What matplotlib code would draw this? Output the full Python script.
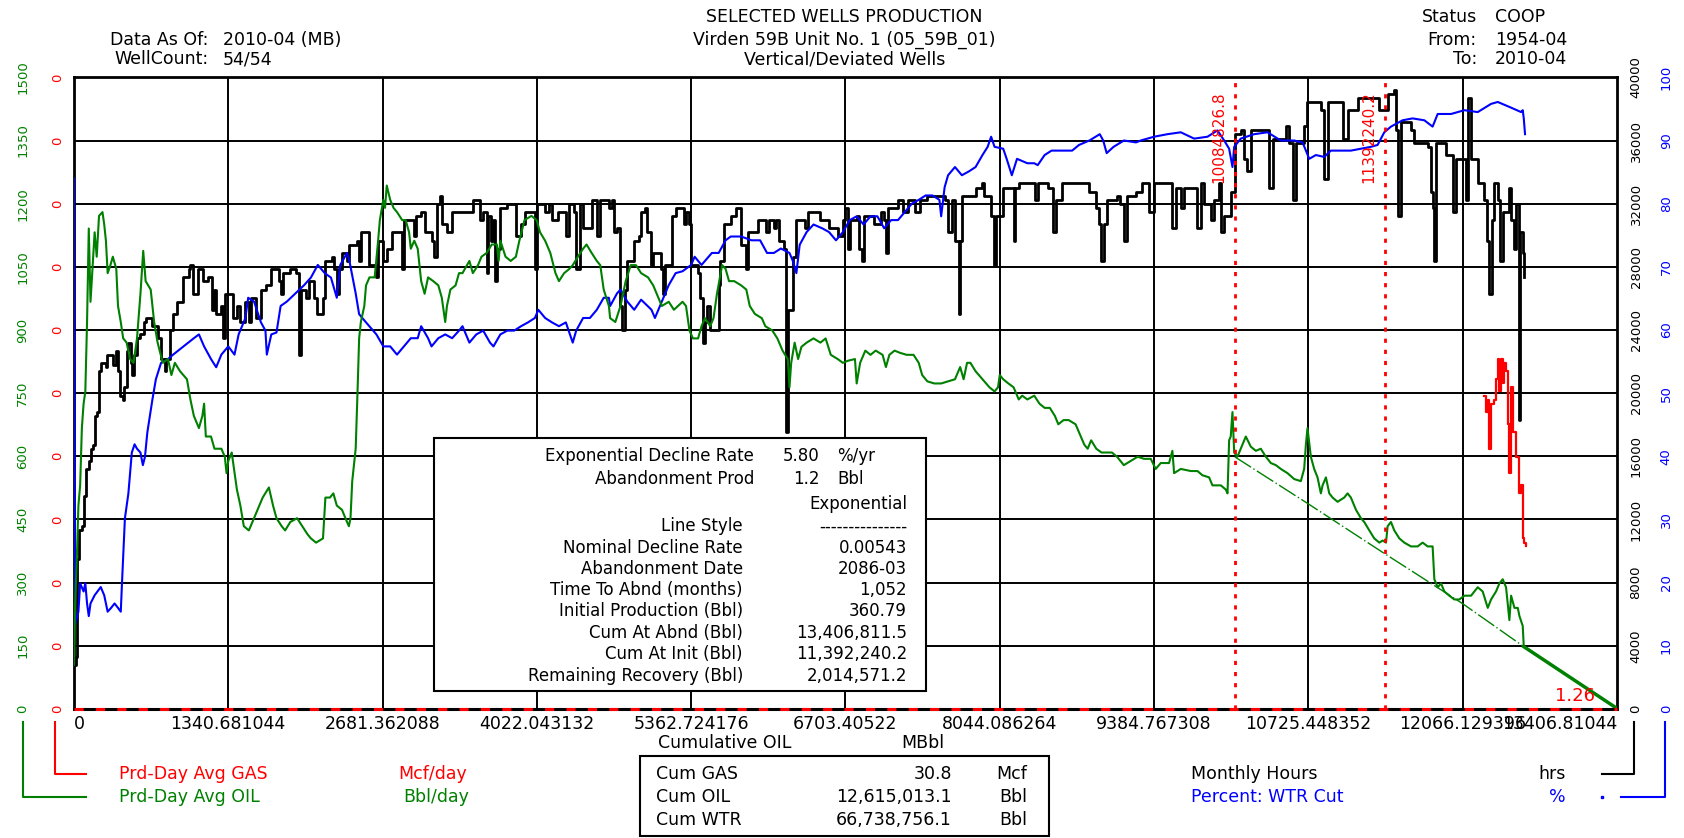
import matplotlib
matplotlib.use("Agg")
import matplotlib.pyplot as plt
from matplotlib.transforms import blended_transform_factory as blend
from matplotlib.patches import Rectangle
from matplotlib.lines import Line2D

plt.rcParams['font.family'] = ['DejaVu Sans', 'Noto Sans']

GREEN = '#008000'
RED = '#ff0000'
BLUE = '#0000ff'

# axis scales
x_tick_labels = ['0', '1340.681044', '2681.362088', '4022.043132', '5362.724176',
                 '6703.40522', '8044.086264', '9384.767308', '10725.448352',
                 '12066.129396', '13406.81044']
oil_ticks = [0, 150, 300, 450, 600, 750, 900, 1050, 1200, 1350, 1500]
hrs_ticks = [0, 4000, 8000, 12000, 16000, 20000, 24000, 28000, 32000, 36000, 40000]
wtr_ticks = [0, 10, 20, 30, 40, 50, 60, 70, 80, 90, 100]

# Prd-Day Avg OIL (Bbl/day) vs cumulative oil (MBbl)
oil_x = [0, 9, 24, 39, 54, 69, 84, 99, 114, 129,
         144, 159, 180, 198, 218, 248, 263, 278, 293, 317,
         338, 368, 383, 407, 428, 458, 488, 518, 548, 578,
         602, 623, 667, 697, 727, 772, 817, 847, 877, 922,
         982, 1012, 1042, 1086, 1116, 1131, 1146, 1191, 1221, 1281,
         1311, 1326, 1341, 1371, 1416, 1446, 1476, 1520, 1580, 1640,
         1694, 1730, 1760, 1805, 1835, 1880, 1939, 1984, 2029, 2059,
         2104, 2164, 2185, 2224, 2254, 2284, 2329, 2359, 2389, 2403,
         2418, 2448, 2463, 2478, 2493, 2523, 2538, 2568, 2613, 2643,
         2658, 2688, 2703, 2718, 2748, 2777, 2807, 2852, 2882, 2912,
         2927, 2957, 2987, 3017, 3047, 3077, 3122, 3166, 3196, 3226,
         3241, 3271, 3316, 3346, 3376, 3436, 3466, 3511, 3541, 3586,
         3630, 3675, 3690, 3705, 3750, 3795, 3840, 3870, 3915, 3975,
         4020, 4050, 4094, 4139, 4184, 4214, 4259, 4304, 4334, 4379,
         4424, 4454, 4498, 4543, 4573, 4603, 4648,
         4659, 4704, 4749, 4794, 4838, 4883, 4928, 4988, 5033, 5078,
         5108, 5168, 5213, 5288, 5318, 5348, 5378, 5423, 5453, 5483,
         5528, 5557, 5587, 5632, 5662, 5692, 5737, 5797, 5842, 5872,
         5917, 5977, 6007, 6067, 6112, 6157, 6202, 6217, 6232, 6262,
         6292, 6321, 6366, 6426, 6486, 6531, 6576, 6636, 6681, 6726,
         6786, 6801, 6831, 6876, 6921, 6966, 7026, 7055, 7085, 7130,
         7175, 7235, 7295, 7340, 7370, 7415, 7475, 7535, 7595, 7655,
         7700, 7730, 7760, 7789, 7834, 7894, 7954, 7999, 8029, 8044,
         8074, 8119, 8164, 8209, 8239, 8284, 8344, 8389, 8434, 8479,
         8523, 8553, 8598, 8643, 8703, 8748, 8778, 8808, 8838, 8883,
         8928, 8973, 9018, 9063, 9122, 9182, 9242,
         9298, 9356, 9399, 9443, 9515, 9544, 9559, 9617, 9704, 9762,
         9805, 9863, 9892, 9965, 10008, 10023, 10037, 10051, 10066, 10081,
         10109, 10153, 10182, 10225, 10269, 10312, 10356, 10399, 10443, 10486,
         10544, 10602, 10660, 10689, 10704, 10718, 10747, 10776, 10805, 10834,
         10849, 10878, 10907, 10936, 10979, 11037, 11066, 11095, 11139, 11182,
         11211, 11255, 11298, 11342, 11371, 11400, 11414, 11443, 11472, 11516,
         11559, 11617, 11675, 11718, 11762, 11805, 11820, 11849, 11878, 11907,
         11950, 11994, 12037, 12081, 12139, 12197, 12240, 12284, 12313, 12356,
         12385, 12414, 12443, 12472, 12487, 12516, 12545, 12559, 12588, 12597]
oil_rate = [105, 240, 347, 483, 531, 667, 725, 754, 919, 1141,
            967, 1035, 1132, 1074, 1171, 1180, 1151, 1112, 1035, 1054,
            1074, 1045, 957, 919, 880, 870, 831, 822, 880, 986,
            1088, 1016, 996, 919, 870, 822, 831, 793, 822, 802,
            783, 735, 696, 667, 696, 725, 647, 647, 618, 618,
            599, 560, 589, 609, 521, 483, 434, 424, 463, 502,
            526, 483, 453, 434, 424, 444, 453, 434, 415, 405,
            395, 405, 502, 502, 512, 483, 473, 453, 434, 453,
            541, 618, 744, 880, 919, 957, 1006, 1025, 1025, 1112,
            1161, 1209, 1190, 1243, 1209, 1190, 1180, 1161, 1161, 1132,
            1093, 1112, 1093, 1016, 986, 1025, 1016, 1006, 977, 919,
            957, 996, 1006, 1035, 1035, 1064, 1035, 1054, 1074, 1083,
            1103, 1103, 1064, 1112, 1074, 1064, 1074, 1112, 1161, 1171,
            1161, 1132, 1112, 1083, 1035, 1016, 1035, 1045, 1054, 1074,
            1093, 1103, 1083, 1064, 1054, 996, 957,
            928, 919, 957, 1016, 1054, 1054, 1035, 1025, 1006, 977,
            957, 967, 948, 967, 957, 899, 880, 880, 909, 928,
            909, 928, 986, 1054, 1045, 1016, 1016, 1006, 996, 957,
            938, 928, 909, 899, 880, 851, 831, 764, 822, 870,
            831, 860, 870, 880, 870, 880, 841, 831, 822, 827,
            831, 773, 822, 851, 841, 851, 841, 812, 841, 851,
            846, 841, 841, 822, 793, 778, 773, 773, 778, 783,
            812, 783, 822, 822, 802, 783, 764, 754, 764, 793,
            783, 773, 764, 735, 744, 735, 744, 725, 715, 715,
            696, 676, 686, 686, 676, 647, 628, 618, 638, 618,
            609, 609, 609, 599, 579, 589, 599,
            594, 594, 570, 584, 584, 613, 560, 570, 565, 565,
            555, 550, 531, 531, 521, 512, 638, 647, 705, 609,
            599, 628, 647, 623, 613, 618, 599, 584, 579, 570,
            560, 546, 541, 570, 628, 667, 599, 570, 550, 512,
            531, 550, 512, 502, 492, 502, 512, 502, 473, 453,
            444, 424, 405, 395, 400, 395, 434, 444, 424, 405,
            395, 386, 386, 395, 386, 386, 308, 289, 298, 279,
            269, 260, 260, 269, 269, 289, 279, 240, 260, 279,
            298, 308, 289, 211, 269, 240, 240, 221, 197, 148]

# Monthly Hours
hrs_x = [0, 18, 30, 48, 69, 90, 108, 129, 144, 168,
         180, 204, 218, 239, 278, 287, 338, 368, 383, 398,
         428, 437, 458, 473, 497, 503, 518, 548, 578, 608,
         629, 682, 727, 757, 787, 802, 832, 862, 898, 952,
         997, 1012, 1036, 1077, 1125, 1161, 1197, 1221, 1236, 1281,
         1296, 1311, 1347, 1386, 1416, 1446, 1485, 1520, 1535, 1580,
         1625, 1670, 1715, 1784, 1796, 1814, 1880, 1933, 1954, 1969,
         2014, 2044, 2089, 2113, 2149, 2164, 2185, 2239, 2263, 2284,
         2299, 2329, 2373, 2394, 2463, 2478, 2493, 2553, 2568, 2628,
         2643, 2688, 2724, 2762, 2822, 2852, 2867, 2927, 2951, 2972,
         3017, 3047, 3107, 3131, 3152, 3181, 3196, 3241, 3286, 3406,
         3466, 3526, 3556, 3586, 3601, 3622, 3639, 3660, 3675, 3699,
         3765, 3819, 3840, 3885, 3915, 3990, 4005, 4020, 4094, 4124,
         4154, 4208, 4274, 4298, 4349, 4364, 4394, 4424, 4498, 4543,
         4573, 4648,
         4674, 4689, 4719, 4743, 4764, 4785, 4808, 4868, 4913, 4928,
         4958, 4982, 5012, 5033, 5102, 5114, 5138, 5183, 5198, 5228,
         5303, 5318, 5342, 5363, 5423, 5438, 5462, 5483, 5504, 5528,
         5564, 5602, 5617, 5647, 5707, 5752, 5782, 5797, 5842, 5857,
         5932, 5947, 6013, 6037, 6082, 6103, 6127, 6172, 6187, 6202,
         6232, 6247, 6277, 6352, 6381, 6486, 6561, 6636, 6681, 6702,
         6726, 6741, 6801, 6822, 6846, 6861, 6951, 7010, 7040, 7055,
         7070, 7160, 7205, 7250, 7310, 7355, 7415, 7565, 7595, 7625,
         7655, 7691, 7703, 7715, 7834, 7888, 7909, 7969, 7990, 8014,
         8074, 8164, 8179, 8209, 8350, 8380, 8464, 8509, 8530, 8583,
         8703, 8823, 8883, 8907, 8928, 8949, 8973, 9063, 9093, 9123,
         9153, 9228,
         9283, 9341, 9385, 9515, 9544, 9573, 9617, 9646, 9733, 9762,
         9791, 9820, 9878, 9907, 9950, 9965, 9994, 10051, 10086, 10138,
         10167, 10196, 10225, 10370, 10385, 10414, 10530, 10559, 10588, 10617,
         10689, 10712, 10834, 10857, 10892, 10979, 11023, 11066, 11153, 11342,
         11414, 11472, 11486, 11501, 11530, 11617, 11646, 11733, 11762, 11791,
         11805, 11820, 11834, 11921, 11979, 12008, 12066, 12095, 12116, 12139,
         12197, 12255, 12278, 12298, 12318, 12342, 12371, 12394, 12414, 12472,
         12487, 12510, 12530, 12559, 12568, 12588, 12603]
monthly_hours = [2790, 3307, 9509, 11318, 11576, 13514, 15194, 15710, 16486, 16744,
                 18553, 18811, 21395, 21912, 21654, 22429, 21783, 22687, 21395, 19845,
                 19586, 20362, 22687, 23204, 21912, 21137, 22429, 23462, 23721, 24496,
                 24754, 24238, 23462, 22170, 21395, 22170, 23979, 25013, 25788, 27338,
                 27855, 28114, 26305, 27855, 27080, 27338, 25271, 26563, 25013, 25530,
                 23462, 26305, 26305, 24754, 25530, 24496, 25788, 24496, 26046, 24754,
                 26563, 26822, 27855, 27080, 26305, 27597, 27855, 27597, 22429, 26563,
                 26046, 27080, 26046, 25013, 25013, 26046, 28372, 28630, 27855, 26305,
                 27855, 28889, 28372, 29406, 29664, 28372, 30181, 30181, 28114, 27338,
                 29664, 28372, 29147, 30181, 30181, 27855, 30956, 30956, 29922, 31214,
                 31473, 30181, 29664, 28630, 31990, 32506, 30698, 30181, 31473, 31473,
                 32248, 30956, 31473, 27597, 31214, 29664, 30956, 27080, 29147, 31731,
                 31990, 31990, 29922, 30698, 31473, 31473, 27855, 31990, 31473, 31990,
                 30956, 31473, 29922, 31990, 31473, 27855, 31990, 30439, 32248, 29922,
                 32248, 31731,
                 32248, 30181, 30439, 25530, 23979, 26563, 28372, 29664, 29922, 31473,
                 31731, 30181, 28114, 28889, 27855, 26305, 28114, 28114, 31214, 31731,
                 30698, 31473, 30698, 28114, 27597, 26046, 23204, 24496, 25530, 23979,
                 23979, 26822, 28372, 30698, 31214, 31731, 31731, 29406, 27855, 30181,
                 30181, 30956, 30181, 30956, 30439, 30956, 29664, 29147, 17519, 25271,
                 25271, 28630, 30956, 30439, 31473, 30956, 30439, 29922, 30956, 31731,
                 29147, 30956, 31214, 29147, 28372, 31214, 30698, 31473, 30956, 28889,
                 31731, 32248, 31473, 32248, 31473, 32248, 32506, 32248, 30181, 32248,
                 29664, 25013, 29664, 32506, 33023, 33282, 32506, 31214, 28114, 31214,
                 33023, 29664, 33023, 33282, 32248, 33282, 33023, 30181, 32248, 33282,
                 33282, 32765, 31731, 30698, 28372, 30698, 32248, 32506, 31990, 29664,
                 32506, 32765,
                 33282, 31473, 33282, 33282, 30439, 33023, 31731, 33023, 33023, 30439,
                 33282, 31990, 30956, 32248, 33282, 30181, 31214, 32765, 36382, 36641,
                 34832, 34057, 36641, 36641, 33023, 36124, 36899, 35866, 32248, 35866,
                 36899, 38450, 37933, 33540, 38450, 38450, 36124, 37933, 38708, 37933,
                 38966, 39225, 36641, 31214, 37158, 36641, 35866, 35866, 35607, 32765,
                 31731, 28372, 35866, 35090, 31473, 34832, 34832, 32248, 38708, 34832,
                 33282, 32248, 29664, 26305, 30956, 33282, 32248, 28372, 31473, 33023,
                 30956, 29147, 31990, 18294, 30181, 28889, 27338]

# Percent: WTR Cut
wtr_x = [0, 9, 39, 54, 84, 99, 114, 129, 144,
         180, 233, 263, 293, 323, 353, 383, 407, 419, 443,
         473, 503, 527, 548, 578, 599, 617, 638, 682, 712,
         757, 817, 862, 952, 1042, 1086, 1131, 1191, 1236, 1281,
         1341, 1395, 1431, 1490, 1514, 1565, 1625, 1664, 1676, 1715,
         1760, 1796, 1850, 1925, 2000, 2059, 2119, 2179, 2233, 2284,
         2314, 2373, 2394, 2448, 2478, 2538, 2628, 2688, 2748, 2807,
         2867, 2927, 2987, 3017, 3077, 3107, 3166, 3226, 3286, 3346,
         3376, 3436, 3496, 3556, 3615, 3645, 3705, 3765, 3825, 3885,
         3945, 4005, 4035, 4094, 4154, 4214, 4274, 4334, 4364, 4424,
         4483, 4543, 4603, 4648,
         4659, 4719, 4749, 4808, 4868, 4928, 5018, 5048, 5108, 5168,
         5228, 5288, 5363, 5393, 5453, 5543, 5602, 5662, 5707, 5797,
         5887, 5962, 6022, 6082, 6142, 6217, 6247, 6277, 6306, 6366,
         6426, 6501, 6561, 6621, 6681, 6741, 6801, 6861, 6921, 6981,
         7040, 7100, 7160, 7220, 7280, 7340, 7400, 7460, 7520, 7535,
         7565, 7595, 7655, 7715, 7775, 7834, 7894, 7939, 7969, 7999,
         8074, 8104, 8149, 8194, 8284, 8344, 8374, 8434, 8494, 8583,
         8673, 8733, 8823, 8913, 8943, 8973, 9033, 9123, 9228,
         9269, 9385, 9501, 9617, 9733, 9849, 9936, 9994, 10037, 10066,
         10081, 10138, 10254, 10370, 10486, 10602, 10675, 10733, 10791, 10863,
         10921, 11095, 11269, 11327, 11385, 11443, 11544, 11631, 11733, 11805,
         11849, 11965, 12081, 12197, 12313, 12371, 12487, 12574, 12588, 12597,
         12608]
wtr_cut = [84.0, 13.4, 15.4, 19.9, 18.6, 19.9, 16.7, 14.7, 16.7,
           18.0, 19.3, 18.0, 15.4, 16.0, 16.7, 16.0, 15.4, 20.5, 30.2,
           34.1, 40.6, 41.9, 41.2, 40.6, 38.6, 39.9, 43.8, 49.0, 52.2,
           54.8, 55.4, 56.1, 57.4, 58.7, 59.3, 57.4, 55.4, 54.1, 56.1,
           57.4, 56.1, 59.3, 61.9, 65.1, 64.5, 61.2, 59.9, 56.1, 59.3,
           59.6, 63.8, 64.5, 65.8, 67.1, 68.3, 70.3, 69.0, 68.3, 65.1,
           70.3, 72.2, 70.9, 65.8, 62.5, 61.2, 59.3, 57.4, 57.4, 56.1,
           57.4, 58.7, 58.7, 60.6, 58.7, 57.4, 58.7, 59.3, 58.7, 59.9,
           60.6, 58.0, 59.3, 59.9, 58.0, 57.4, 59.3, 59.9, 59.9, 60.6,
           61.2, 61.9, 63.2, 61.9, 61.2, 60.6, 61.2, 58.0, 59.9, 61.9,
           61.9, 63.2, 65.1, 65.1,
           63.8, 65.8, 66.4, 64.5, 63.2, 64.8, 63.2, 61.9, 64.5, 67.1,
           69.0, 69.3, 70.3, 71.6, 70.3, 72.2, 72.2, 74.2, 74.8, 74.8,
           74.2, 74.2, 72.2, 72.2, 72.9, 72.2, 70.9, 69.0, 73.5, 75.5,
           76.7, 76.1, 75.5, 74.2, 75.5, 77.4, 78.0, 76.7, 78.0, 78.0,
           76.1, 77.4, 77.4, 78.7, 80.0, 80.6, 81.3, 81.3, 80.6, 78.0,
           82.6, 84.5, 85.8, 84.5, 85.1, 85.8, 87.7, 89.0, 90.6, 89.0,
           88.7, 87.1, 84.5, 87.1, 86.4, 86.4, 86.1, 87.7, 88.4, 88.4,
           88.4, 89.3, 90.0, 91.0, 90.0, 88.0, 89.0, 90.0, 89.7,
           90.0, 90.6, 91.0, 91.3, 90.3, 90.6, 91.6, 90.0, 88.7, 85.8,
           89.0, 90.3, 91.0, 91.3, 90.0, 90.0, 89.7, 87.1, 87.7, 87.4,
           88.4, 88.4, 89.0, 89.3, 91.3, 92.2, 93.2, 93.5, 93.2, 92.2,
           94.2, 94.2, 94.8, 94.5, 95.8, 96.1, 95.2, 94.5, 94.8, 93.5,
           91.0]

# Prd-Day Avg GAS (drawn on the oil scale)
gas_x = [12255, 12269, 12284, 12298, 12313, 12342, 12356, 12371, 12385, 12400,
         12414, 12429, 12443, 12458, 12472, 12487, 12501, 12530, 12559, 12574,
         12588, 12603, 12617]
gas_rate = [744, 705, 734, 618, 725, 734, 783, 831, 754, 831,
            773, 822, 802, 676, 560, 764, 657, 599, 512, 531,
            405, 395, 386]

# exponential decline forecast
fc_x = [10085, 10725, 11376, 12066, 12597]
fc_rate = [599, 487, 371, 250, 148]
fc_tail_x = [12597, 13406.81044]
fc_tail_rate = [148, 1.26]

decline_marks = [10084.8268, 11392.2402]
decline_labels = ['10084826.8', '11392240.2']

info_rows = [('Nominal Decline Rate', '0.00543'),
             ('Abandonment Date', '2086-03'),
             ('Time To Abnd (months)', '1,052'),
             ('Initial Production (Bbl)', '360.79'),
             ('Cum At Abnd (Bbl)', '13,406,811.5'),
             ('Cum At Init (Bbl)', '11,392,240.2'),
             ('Remaining Recovery (Bbl)', '2,014,571.2')]
cum_rows = [('Cum GAS', '30.8', 'Mcf'),
            ('Cum OIL', '12,615,013.1', 'Bbl'),
            ('Cum WTR', '66,738,756.1', 'Bbl')]

X_MAX = float(x_tick_labels[-1])
x_tick_vals = [float(s) for s in x_tick_labels]

fig = plt.figure(figsize=(16.84, 8.38), dpi=100)
ax_h = fig.add_axes([0.0439, 0.154, 0.9163, 0.7537])
ax_w = ax_h.twinx()
ax_o = ax_h.twinx()
for a in (ax_h, ax_w, ax_o):
    a.set_xlim(0, X_MAX)
    a.tick_params(left=False, right=False, bottom=False, top=False,
                  labelleft=False, labelright=False, labelbottom=False)
    for s in a.spines.values():
        s.set_visible(False)
ax_h.set_ylim(0, 40000)
ax_w.set_ylim(0, 100)
ax_o.set_ylim(0, 1500)
for s in ['left', 'right', 'top']:
    ax_h.spines[s].set_visible(True)
    ax_h.spines[s].set_linewidth(2)

# grid
for v in hrs_ticks[1:-1]:
    ax_h.axhline(v, color='black', lw=1.4, zorder=1)
for v in x_tick_vals[1:-1]:
    ax_h.axvline(v, color='black', lw=1.4, zorder=1)

# series
ax_h.plot(hrs_x, monthly_hours, color='black', lw=2, drawstyle='steps-post', zorder=2)
ax_w.plot(wtr_x, wtr_cut, color=BLUE, lw=1.5)
ax_o.plot(oil_x, oil_rate, color=GREEN, lw=1.5)
ax_o.plot(gas_x, gas_rate, color=RED, lw=1.6, drawstyle='steps-post')
ax_o.plot(fc_x, fc_rate, color=GREEN, lw=1, ls=(0, (14, 2, 1, 2)))
ax_o.plot(fc_tail_x, fc_tail_rate, color=GREEN, lw=2.5)

# bottom axis: black with red dashes (gas at zero)
ax_o.axhline(0, color='black', lw=2.2, clip_on=False)
ax_o.axhline(0, color=RED, lw=2.2, ls=(0, (3, 4)), clip_on=False)

for xv, lab in zip(decline_marks, decline_labels):
    ax_o.axvline(xv, color=RED, lw=2, ls=(0, (1.5, 2.5)))
    ax_o.annotate(lab, (xv, 1500), xytext=(-6, -10), textcoords='offset points',
                  rotation=90, ha='right', va='top', color=RED, fontsize=11)
ax_o.annotate('1.26', (X_MAX, 0), xytext=(-16, 3), textcoords='offset points',
              ha='right', va='bottom', color=RED, fontsize=13)

# axis labels
t_oil = blend(fig.transFigure, ax_o.transData)
t_hrs = blend(fig.transFigure, ax_h.transData)
t_wtr = blend(fig.transFigure, ax_w.transData)
for v in oil_ticks:
    fig.text(0.0134, v, str(v), transform=t_oil, rotation=90, ha='center', va='center',
             color=GREEN, fontsize=9.5)
    fig.text(0.0340, v, '0', transform=t_oil, rotation=90, ha='center', va='center',
             color=RED, fontsize=9.5)
for v in hrs_ticks:
    fig.text(0.9715, v, str(v), transform=t_hrs, rotation=90, ha='center', va='center',
             color='black', fontsize=9.5)
for v in wtr_ticks:
    fig.text(0.9895, v, str(v), transform=t_wtr, rotation=90, ha='center', va='center',
             color=BLUE, fontsize=9.5)

t_x = blend(ax_h.transData, fig.transFigure)
for i, (v, lab) in enumerate(zip(x_tick_vals, x_tick_labels)):
    ha = 'left' if i == 0 else ('right' if i == len(x_tick_vals) - 1 else 'center')
    fig.text(v, 0.136, lab, transform=t_x, ha=ha, va='center', fontsize=12.5)
fig.text(0.3907, 0.1128, 'Cumulative OIL', ha='left', va='center', fontsize=12.5)
fig.text(0.5350, 0.1128, 'MBbl', ha='left', va='center', fontsize=12.5)

# header
FS = 12.5
fig.text(0.1239, 0.9526, 'Data As Of:', ha='right', va='center', fontsize=FS)
fig.text(0.1325, 0.9526, '2010-04 (MB)', ha='left', va='center', fontsize=FS)
fig.text(0.1239, 0.9295, 'WellCount:', ha='right', va='center', fontsize=FS)
fig.text(0.1325, 0.9295, '54/54', ha='left', va='center', fontsize=FS)
fig.text(0.5015, 0.9795, 'SELECTED WELLS PRODUCTION', ha='center', va='center', fontsize=FS)
fig.text(0.5015, 0.9526, 'Virden 59B Unit No. 1 (05_59B_01)', ha='center', va='center', fontsize=FS)
fig.text(0.5015, 0.9295, 'Vertical/Deviated Wells', ha='center', va='center', fontsize=FS)
for y, lab, val in [(0.9795, 'Status', 'COOP'), (0.9526, 'From:', '1954-04'),
                    (0.9295, 'To:', '2010-04')]:
    fig.text(0.877, y, lab, ha='right', va='center', fontsize=FS)
    fig.text(0.8878, y, val, ha='left', va='center', fontsize=FS)

# legend texts and connectors
fig.text(0.0707, 0.0769, 'Prd-Day Avg GAS', color=RED, ha='left', va='center', fontsize=FS)
fig.text(0.2366, 0.0769, 'Mcf/day', color=RED, ha='left', va='center', fontsize=FS)
fig.text(0.0707, 0.0487, 'Prd-Day Avg OIL', color=GREEN, ha='left', va='center', fontsize=FS)
fig.text(0.2392, 0.0487, 'Bbl/day', color=GREEN, ha='left', va='center', fontsize=FS)
fig.text(0.7073, 0.0769, 'Monthly Hours', color='black', ha='left', va='center', fontsize=FS)
fig.text(0.9300, 0.0769, 'hrs', color='black', ha='right', va='center', fontsize=FS)
fig.text(0.7073, 0.0487, 'Percent: WTR Cut', color=BLUE, ha='left', va='center', fontsize=FS)
fig.text(0.9300, 0.0487, '%', color=BLUE, ha='right', va='center', fontsize=FS)

for xs, ys, c in [([0.0137, 0.0137, 0.0511], [0.1385, 0.0487, 0.0487], GREEN),
                  ([0.0327, 0.0327, 0.0511], [0.1385, 0.0769, 0.0769], RED),
                  ([0.9513, 0.9703, 0.9703], [0.0769, 0.0769, 0.1385], 'black'),
                  ([0.9626, 0.9887, 0.9887], [0.0487, 0.0487, 0.1385], BLUE)]:
    fig.add_artist(Line2D(xs, ys, transform=fig.transFigure, color=c, lw=1.5))
fig.add_artist(Line2D([0.9513], [0.0487], transform=fig.transFigure, color=BLUE,
                      marker='s', markersize=1.5, lw=0))

# info box
fig.add_artist(Rectangle((0.2577, 0.1756), 0.2923, 0.3013, transform=fig.transFigure,
                         facecolor='white', edgecolor='black', lw=1.5, zorder=5))
fig.text(0.4477, 0.4564, 'Exponential Decline Rate', ha='right', va='center', fontsize=12, zorder=6)
fig.text(0.4869, 0.4564, '5.80', ha='right', va='center', fontsize=12, zorder=6)
fig.text(0.4970, 0.4564, '%/yr', ha='left', va='center', fontsize=12, zorder=6)
fig.text(0.4477, 0.4282, 'Abandonment Prod', ha='right', va='center', fontsize=12, zorder=6)
fig.text(0.4869, 0.4282, '1.2', ha='right', va='center', fontsize=12, zorder=6)
fig.text(0.4970, 0.4282, 'Bbl', ha='left', va='center', fontsize=12, zorder=6)
fig.text(0.5386, 0.3987, 'Exponential', ha='right', va='center', fontsize=12, zorder=6)
fig.text(0.4412, 0.3718, 'Line Style', ha='right', va='center', fontsize=12, zorder=6)
fig.text(0.5386, 0.3718, '---------------', ha='right', va='center', fontsize=12, zorder=6)
row_y = [0.3462, 0.3205, 0.2962, 0.2705, 0.2449, 0.2192, 0.1936]
for y, (lab, val) in zip(row_y, info_rows):
    fig.text(0.4412, y, lab, ha='right', va='center', fontsize=12, zorder=6)
    fig.text(0.5386, y, val, ha='right', va='center', fontsize=12, zorder=6)

# cumulative box
fig.add_artist(Rectangle((0.3800, 0.0026), 0.2430, 0.0948, transform=fig.transFigure,
                         facecolor='white', edgecolor='black', lw=1.5, zorder=5))
for y, (lab, val, unit) in zip([0.0769, 0.0487, 0.0218], cum_rows):
    fig.text(0.3897, y, lab, ha='left', va='center', fontsize=FS, zorder=6)
    fig.text(0.5653, y, val, ha='right', va='center', fontsize=FS, zorder=6)
    fig.text(0.6099, y, unit, ha='right', va='center', fontsize=FS, zorder=6)

fig.savefig('out.png', dpi=100)
